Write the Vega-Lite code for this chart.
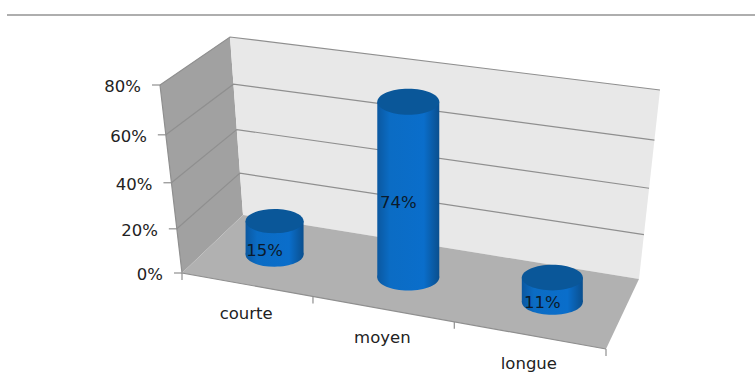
{
  "$schema": "https://vega.github.io/schema/vega-lite/v6.json",
  "width": 755,
  "height": 390,
  "padding": 0,
  "autosize": {"type": "none"},
  "background": "white",
  "view": {"stroke": null},
  "datasets": {
    "cadre": [
      {"trait": "fond", "ordre": 1, "u": 0, "d": 1, "v": 0},
      {"trait": "fond", "ordre": 2, "u": 3, "d": 1, "v": 0},
      {"trait": "fond", "ordre": 3, "u": 3, "d": 1, "v": 80},
      {"trait": "fond", "ordre": 4, "u": 0, "d": 1, "v": 80},
      {"trait": "cote", "ordre": 1, "u": 0, "d": 0, "v": 0},
      {"trait": "cote", "ordre": 2, "u": 0, "d": 1, "v": 0},
      {"trait": "cote", "ordre": 3, "u": 0, "d": 1, "v": 80},
      {"trait": "cote", "ordre": 4, "u": 0, "d": 0, "v": 80},
      {"trait": "sol", "ordre": 1, "u": 0, "d": 0, "v": 0},
      {"trait": "sol", "ordre": 2, "u": 3, "d": 0, "v": 0},
      {"trait": "sol", "ordre": 3, "u": 3, "d": 1, "v": 0},
      {"trait": "sol", "ordre": 4, "u": 0, "d": 1, "v": 0},
      {"trait": "grille20", "ordre": 1, "u": 0, "d": 0, "v": 20},
      {"trait": "grille20", "ordre": 2, "u": 0, "d": 1, "v": 20},
      {"trait": "grille20", "ordre": 3, "u": 3, "d": 1, "v": 20},
      {"trait": "grille40", "ordre": 1, "u": 0, "d": 0, "v": 40},
      {"trait": "grille40", "ordre": 2, "u": 0, "d": 1, "v": 40},
      {"trait": "grille40", "ordre": 3, "u": 3, "d": 1, "v": 40},
      {"trait": "grille60", "ordre": 1, "u": 0, "d": 0, "v": 60},
      {"trait": "grille60", "ordre": 2, "u": 0, "d": 1, "v": 60},
      {"trait": "grille60", "ordre": 3, "u": 3, "d": 1, "v": 60},
      {"trait": "grille80", "ordre": 1, "u": 0, "d": 0, "v": 80},
      {"trait": "grille80", "ordre": 2, "u": 0, "d": 1, "v": 80},
      {"trait": "grille80", "ordre": 3, "u": 3, "d": 1, "v": 80},
      {"trait": "axe", "ordre": 1, "u": 0, "d": 0, "v": 80},
      {"trait": "axe", "ordre": 2, "u": 0, "d": 0, "v": 0},
      {"trait": "axe", "ordre": 3, "u": 3, "d": 0, "v": 0}
    ],
    "reperes": [
      {"sorte": "valeur", "u": 0, "d": 0, "v": 0, "texte": "0%"},
      {"sorte": "valeur", "u": 0, "d": 0, "v": 20, "texte": "20%"},
      {"sorte": "valeur", "u": 0, "d": 0, "v": 40, "texte": "40%"},
      {"sorte": "valeur", "u": 0, "d": 0, "v": 60, "texte": "60%"},
      {"sorte": "valeur", "u": 0, "d": 0, "v": 80, "texte": "80%"},
      {"sorte": "categorie", "u": 0, "d": 0, "v": 0, "texte": ""},
      {"sorte": "categorie", "u": 1, "d": 0, "v": 0, "texte": ""},
      {"sorte": "categorie", "u": 2, "d": 0, "v": 0, "texte": ""},
      {"sorte": "categorie", "u": 3, "d": 0, "v": 0, "texte": ""}
    ],
    "mesures": [
      {"categorie": "courte", "rang": 0, "valeur": 15},
      {"categorie": "moyen", "rang": 1, "valeur": 74},
      {"categorie": "longue", "rang": 2, "valeur": 11}
    ]
  },
  "encoding": {},
  "layer": [
    {
      "data": {"name": "cadre"},
      "transform": [
        {"filter": "datum.trait === 'cote'"},
        {"calculate": "datum.u/3*(0.89+0.11*datum.u/3)", "as": "w"},
        {"calculate": "datum.v/80*(0.92+0.08*datum.v/80)", "as": "t"},
        {"calculate": "182+424*datum.w+datum.d*(61-28*datum.w)+datum.t*(-22+9*datum.d+34*datum.w*datum.d)", "as": "px"},
        {"calculate": "273+76*datum.w+datum.d*(-58-12*datum.w)+datum.t*(-188+10*datum.d-11*datum.w*datum.d)", "as": "py"}
      ],
      "mark": {"type": "line", "fill": "#a1a1a1", "stroke": null},
      "encoding": {
        "x": {"field": "px", "type": "quantitative", "scale": {"domain": [0, 755], "nice": false, "zero": false}, "axis": null},
        "y": {"field": "py", "type": "quantitative", "scale": {"domain": [390, 0], "nice": false, "zero": false}, "axis": null},
        "order": {"field": "ordre"}
      }
    },
    {
      "data": {"name": "cadre"},
      "transform": [
        {"filter": "datum.trait === 'fond'"},
        {"calculate": "datum.u/3*(0.89+0.11*datum.u/3)", "as": "w"},
        {"calculate": "datum.v/80*(0.92+0.08*datum.v/80)", "as": "t"},
        {"calculate": "182+424*datum.w+datum.d*(61-28*datum.w)+datum.t*(-22+9*datum.d+34*datum.w*datum.d)", "as": "px"},
        {"calculate": "273+76*datum.w+datum.d*(-58-12*datum.w)+datum.t*(-188+10*datum.d-11*datum.w*datum.d)", "as": "py"}
      ],
      "mark": {"type": "line", "fill": "#e8e8e8", "stroke": null},
      "encoding": {
        "x": {"field": "px", "type": "quantitative", "axis": null},
        "y": {"field": "py", "type": "quantitative", "axis": null},
        "order": {"field": "ordre"}
      }
    },
    {
      "data": {"name": "cadre"},
      "transform": [
        {"filter": "datum.trait === 'sol'"},
        {"calculate": "datum.u/3*(0.89+0.11*datum.u/3)", "as": "w"},
        {"calculate": "datum.v/80*(0.92+0.08*datum.v/80)", "as": "t"},
        {"calculate": "182+424*datum.w+datum.d*(61-28*datum.w)+datum.t*(-22+9*datum.d+34*datum.w*datum.d)", "as": "px"},
        {"calculate": "273+76*datum.w+datum.d*(-58-12*datum.w)+datum.t*(-188+10*datum.d-11*datum.w*datum.d)", "as": "py"}
      ],
      "mark": {"type": "line", "fill": "#b1b1b1", "stroke": null},
      "encoding": {
        "x": {"field": "px", "type": "quantitative", "axis": null},
        "y": {"field": "py", "type": "quantitative", "axis": null},
        "order": {"field": "ordre"}
      }
    },
    {
      "data": {"name": "cadre"},
      "transform": [
        {"filter": "indexof(datum.trait, 'grille') === 0 || datum.trait === 'axe'"},
        {"calculate": "datum.u/3*(0.89+0.11*datum.u/3)", "as": "w"},
        {"calculate": "datum.v/80*(0.92+0.08*datum.v/80)", "as": "t"},
        {"calculate": "182+424*datum.w+datum.d*(61-28*datum.w)+datum.t*(-22+9*datum.d+34*datum.w*datum.d)", "as": "px"},
        {"calculate": "273+76*datum.w+datum.d*(-58-12*datum.w)+datum.t*(-188+10*datum.d-11*datum.w*datum.d)", "as": "py"}
      ],
      "mark": {"type": "line", "stroke": "#8f8f8f", "strokeWidth": 1.2},
      "encoding": {
        "x": {"field": "px", "type": "quantitative", "axis": null},
        "y": {"field": "py", "type": "quantitative", "axis": null},
        "detail": {"field": "trait"},
        "order": {"field": "ordre"}
      }
    },
    {
      "data": {"name": "reperes"},
      "transform": [
        {"calculate": "datum.u/3*(0.89+0.11*datum.u/3)", "as": "w"},
        {"calculate": "datum.v/80*(0.92+0.08*datum.v/80)", "as": "t"},
        {"calculate": "182+424*datum.w+datum.d*(61-28*datum.w)+datum.t*(-22+9*datum.d+34*datum.w*datum.d)", "as": "px"},
        {"calculate": "273+76*datum.w+datum.d*(-58-12*datum.w)+datum.t*(-188+10*datum.d-11*datum.w*datum.d)", "as": "py"},
        {"calculate": "datum.sorte === 'valeur' ? datum.px-8 : datum.px", "as": "px2"},
        {"calculate": "datum.sorte === 'valeur' ? datum.py : datum.py+7", "as": "py2"}
      ],
      "mark": {"type": "rule", "stroke": "#8f8f8f", "strokeWidth": 1.2},
      "encoding": {
        "x": {"field": "px", "type": "quantitative", "axis": null},
        "x2": {"field": "px2"},
        "y": {"field": "py", "type": "quantitative", "axis": null},
        "y2": {"field": "py2"}
      }
    },
    {
      "data": {"name": "reperes"},
      "transform": [
        {"filter": "datum.sorte === 'valeur'"},
        {"calculate": "datum.v/80*(0.92+0.08*datum.v/80)", "as": "t"},
        {"calculate": "182+datum.t*(-22)", "as": "px"},
        {"calculate": "273+datum.t*(-188)", "as": "py"}
      ],
      "mark": {"type": "text", "align": "right", "baseline": "middle", "dx": -19, "dy": 2, "font": "DejaVu Sans", "fontSize": 16.5, "fill": "#222222"},
      "encoding": {
        "x": {"field": "px", "type": "quantitative", "axis": null},
        "y": {"field": "py", "type": "quantitative", "axis": null},
        "text": {"field": "texte"}
      }
    },
    {
      "data": {"name": "mesures"},
      "transform": [
        {"calculate": "(datum.rang+0.5)/3*(0.89+0.11*(datum.rang+0.5)/3)", "as": "w"},
        {"calculate": "182+424*datum.w", "as": "px"},
        {"calculate": "273+76*datum.w", "as": "py"}
      ],
      "mark": {"type": "text", "align": "center", "baseline": "middle", "dy": 29, "font": "DejaVu Sans", "fontSize": 16.5, "fill": "#222222"},
      "encoding": {
        "x": {"field": "px", "type": "quantitative", "axis": null},
        "y": {"field": "py", "type": "quantitative", "axis": null},
        "text": {"field": "categorie"}
      }
    },
    {
      "data": {"name": "mesures"},
      "transform": [
        {"calculate": "(datum.rang*1.015+0.5)/3*(0.89+0.11*(datum.rang*1.015+0.5)/3)", "as": "w"},
        {"calculate": "182+424*datum.w+0.5*(61-28*datum.w)", "as": "px"},
        {"calculate": "273+76*datum.w+0.5*(-58-12*datum.w)", "as": "pbase"},
        {"calculate": "({courte: 29, moyen: 31, longue: 30.5})[datum.categorie]", "as": "rayon"},
        {"calculate": "4*datum.rayon*datum.rayon", "as": "aire"}
      ],
      "mark": {
        "type": "point", "filled": true, "opacity": 1, "stroke": null,
        "shape": "M-1,0A1,0.42 0 1,1 1,0A1,0.42 0 1,1 -1,0Z",
        "fill": {"x1": 0, "y1": 0, "x2": 1, "y2": 0, "gradient": "linear", "stops": [
          {"offset": 0, "color": "#0b58a0"}, {"offset": 0.2, "color": "#0b6cc4"}, {"offset": 0.75, "color": "#0a6ecb"}, {"offset": 1, "color": "#0a4f8e"}
        ]}
      },
      "encoding": {
        "x": {"field": "px", "type": "quantitative", "axis": null},
        "y": {"field": "pbase", "type": "quantitative", "axis": null},
        "size": {"field": "aire", "type": "quantitative", "scale": null}
      }
    },
    {
      "data": {"name": "mesures"},
      "transform": [
        {"calculate": "(datum.rang*1.015+0.5)/3*(0.89+0.11*(datum.rang*1.015+0.5)/3)", "as": "w"},
        {"calculate": "182+424*datum.w+0.5*(61-28*datum.w)", "as": "px"},
        {"calculate": "273+76*datum.w+0.5*(-58-12*datum.w)", "as": "pbase"},
        {"calculate": "datum.valeur/80*(0.92+0.08*datum.valeur/80)", "as": "t"},
        {"calculate": "datum.pbase-191*datum.t", "as": "ptop"},
        {"calculate": "({courte: 29, moyen: 31, longue: 30.5})[datum.categorie]", "as": "rayon"},
        {"calculate": "datum.px-datum.rayon", "as": "pg"},
        {"calculate": "datum.px+datum.rayon", "as": "pd"}
      ],
      "mark": {
        "type": "rect",
        "fill": {"x1": 0, "y1": 0, "x2": 1, "y2": 0, "gradient": "linear", "stops": [
          {"offset": 0, "color": "#0b58a0"}, {"offset": 0.2, "color": "#0b6cc4"}, {"offset": 0.75, "color": "#0a6ecb"}, {"offset": 1, "color": "#0a4f8e"}
        ]}
      },
      "encoding": {
        "x": {"field": "pg", "type": "quantitative", "axis": null},
        "x2": {"field": "pd"},
        "y": {"field": "ptop", "type": "quantitative", "axis": null},
        "y2": {"field": "pbase"}
      }
    },
    {
      "data": {"name": "mesures"},
      "transform": [
        {"calculate": "(datum.rang*1.015+0.5)/3*(0.89+0.11*(datum.rang*1.015+0.5)/3)", "as": "w"},
        {"calculate": "182+424*datum.w+0.5*(61-28*datum.w)", "as": "px"},
        {"calculate": "273+76*datum.w+0.5*(-58-12*datum.w)", "as": "pbase"},
        {"calculate": "datum.valeur/80*(0.92+0.08*datum.valeur/80)", "as": "t"},
        {"calculate": "datum.pbase-191*datum.t", "as": "ptop"},
        {"calculate": "({courte: 29, moyen: 31, longue: 30.5})[datum.categorie]", "as": "rayon"},
        {"calculate": "4*datum.rayon*datum.rayon", "as": "aire"}
      ],
      "mark": {
        "type": "point", "filled": true, "opacity": 1, "stroke": null,
        "shape": "M-1,0A1,0.42 0 1,1 1,0A1,0.42 0 1,1 -1,0Z",
        "fill": "#0a5799"
      },
      "encoding": {
        "x": {"field": "px", "type": "quantitative", "axis": null},
        "y": {"field": "ptop", "type": "quantitative", "axis": null},
        "size": {"field": "aire", "type": "quantitative", "scale": null}
      }
    },
    {
      "data": {"name": "mesures"},
      "transform": [
        {"calculate": "(datum.rang*1.015+0.5)/3*(0.89+0.11*(datum.rang*1.015+0.5)/3)", "as": "w"},
        {"calculate": "182+424*datum.w+0.5*(61-28*datum.w)", "as": "px"},
        {"calculate": "273+76*datum.w+0.5*(-58-12*datum.w)", "as": "pbase"},
        {"calculate": "datum.valeur/80*(0.92+0.08*datum.valeur/80)", "as": "t"},
        {"calculate": "(datum.pbase+datum.pbase-191*datum.t)/2", "as": "pmilieu"},
        {"calculate": "datum.valeur+'%'", "as": "etiquette"}
      ],
      "mark": {"type": "text", "align": "center", "baseline": "middle", "dx": -10, "dy": 13, "font": "DejaVu Sans", "fontSize": 16.5, "fill": "#0b1a2b"},
      "encoding": {
        "x": {"field": "px", "type": "quantitative", "axis": null},
        "y": {"field": "pmilieu", "type": "quantitative", "axis": null},
        "text": {"field": "etiquette"}
      }
    },
    {
      "data": {"values": [{"filet": "haut"}]},
      "mark": {"type": "rule", "stroke": "#aeaeae", "strokeWidth": 2},
      "encoding": {
        "x": {"datum": 7, "type": "quantitative", "axis": null},
        "x2": {"datum": 755},
        "y": {"datum": 15, "type": "quantitative", "axis": null}
      }
    }
  ]
}
